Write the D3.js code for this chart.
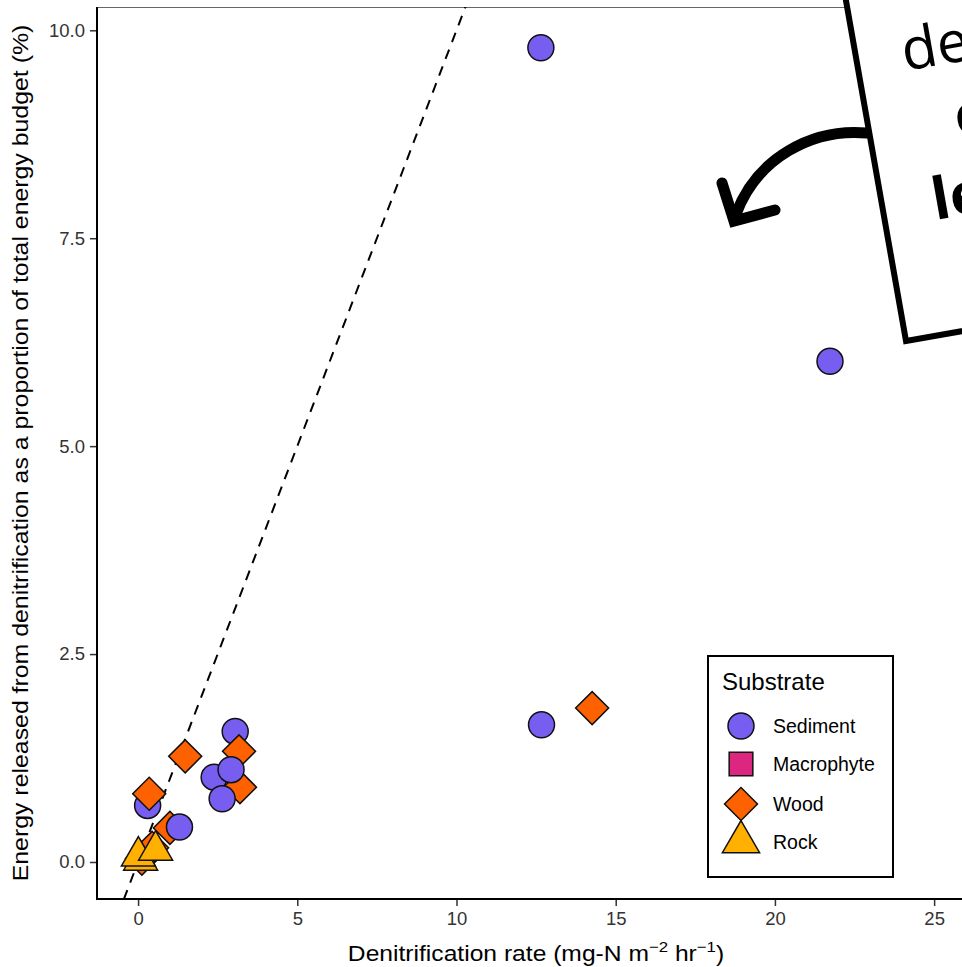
<!DOCTYPE html>
<html>
<head>
<meta charset="utf-8">
<script src="https://cdn.jsdelivr.net/npm/d3@7"></script>
<style>
  body { margin: 0; background: #fff; }
  svg { display: block; font-family: "Liberation Sans", Arial, sans-serif; }
</style>
</head>
<body>
<div id="chart"></div>
<script>
// substrate categories and their colours
const substrates = ["Sediment", "Macrophyte", "Wood", "Rock"];
const substrateColors = ["#785EF0", "#DC267F", "#FE6100", "#FFB000"];

// points in drawing order (substrate, denitrification rate, energy %)
const pointSubstrate = ["Sediment", "Wood", "Sediment", "Wood", "Wood", "Sediment", "Sediment", "Sediment",
  "Wood", "Wood", "Sediment", "Wood", "Wood", "Rock", "Rock", "Rock", "Sediment", "Sediment", "Sediment", "Wood"];
const pointRate = [0.30, 0.35, 3.05, 3.17, 3.20, 2.39, 2.92, 2.64,
  1.48, 1.00, 1.30, 0.12, 0.44, 0.08, 0.01, 0.55, 12.65, 21.73, 12.67, 14.26];
const pointEnergy = [0.68, 0.82, 1.57, 1.33, 0.90, 1.02, 1.11, 0.76,
  1.27, 0.41, 0.42, 0.04, 0.17, 0.02, 0.07, 0.14, 9.79, 6.02, 1.65, 1.85];

const xTicks = [0, 5, 10, 15, 20, 25];
const yTicks = [0, 2.5, 5, 7.5, 10];

const width = 962;
const height = 967;
const pLeft = 97, pTop = 7, pBottom = 899, pRight = 1001;

const svg = d3.select("#chart").append("svg")
  .attr("width", width)
  .attr("height", height);

const x = d3.scaleLinear().domain([-1.29, 27.1]).range([pLeft, pRight]);
const y = d3.scaleLinear().domain([-0.445, 10.28]).range([pBottom, pTop]);
const color = d3.scaleOrdinal().domain(substrates).range(substrateColors);

// symbol generators
const shapeSize = {Sediment: 531, Macrophyte: 560, Wood: 544, Rock: 500};
function symbolPath(s, scale) {
  const k = scale || 1;
  if (s === "Sediment") return d3.symbol(d3.symbolCircle, shapeSize[s] * k)();
  if (s === "Macrophyte") return d3.symbol(d3.symbolSquare, shapeSize[s] * k)();
  if (s === "Wood") return d3.symbol(d3.symbolSquare, shapeSize[s] * k)();
  return d3.symbol(d3.symbolTriangle, shapeSize[s] * k)();
}
function symbolRotate(s) { return s === "Wood" ? " rotate(45)" : ""; }

svg.append("clipPath").attr("id", "panel")
  .append("rect").attr("x", pLeft).attr("y", pTop)
  .attr("width", pRight - pLeft).attr("height", pBottom - pTop);

// top border of the panel
svg.append("line")
  .attr("x1", pLeft).attr("x2", pRight)
  .attr("y1", pTop + 0.5).attr("y2", pTop + 0.5)
  .attr("stroke", "#666").attr("stroke-width", 1);

// 1:1 line
const lineLo = -0.45, lineHi = 10.4;
svg.append("line")
  .attr("clip-path", "url(#panel)")
  .attr("x1", x(lineLo)).attr("y1", y(lineLo))
  .attr("x2", x(lineHi)).attr("y2", y(lineHi))
  .attr("stroke", "#000").attr("stroke-width", 2)
  .attr("stroke-dasharray", "10,8");

// points
svg.append("g").selectAll("path")
  .data(d3.range(pointRate.length))
  .enter().append("path")
  .attr("transform", i => `translate(${x(pointRate[i])},${y(pointEnergy[i])})${symbolRotate(pointSubstrate[i])}`)
  .attr("d", i => symbolPath(pointSubstrate[i]))
  .attr("fill", i => color(pointSubstrate[i]))
  .attr("stroke", "#111")
  .attr("stroke-width", 1.5);

// axes
const xAxis = svg.append("g")
  .attr("transform", `translate(0,${pBottom})`)
  .call(d3.axisBottom(x).tickValues(xTicks).tickSize(7).tickPadding(6).tickFormat(d3.format("d")));
xAxis.select(".domain").remove();
xAxis.append("line").attr("x1", pLeft).attr("x2", width).attr("stroke", "#000").attr("stroke-width", 2);

const yAxis = svg.append("g")
  .attr("transform", `translate(${pLeft},0)`)
  .call(d3.axisLeft(y).tickValues(yTicks).tickSize(7).tickPadding(5).tickFormat(d3.format(".1f")));
yAxis.select(".domain").remove();
yAxis.append("line").attr("y1", pTop).attr("y2", pBottom + 1).attr("stroke", "#000").attr("stroke-width", 2);

svg.selectAll(".tick line").attr("stroke", "#333").attr("stroke-width", 1.5);
svg.selectAll(".tick text").attr("fill", "#333").style("font-size", "18.5px")
  .style("font-family", "'Liberation Sans', Arial, sans-serif");

// axis titles (stretched a little sideways like the original render)
const xTitle = svg.append("text")
  .attr("transform", "translate(536,961) scale(1.12,1)")
  .attr("text-anchor", "middle")
  .style("font-size", "22px");
xTitle.append("tspan").text("Denitrification rate (mg-N m");
xTitle.append("tspan").attr("dy", -9).style("font-size", "15px").text("\u22122");
xTitle.append("tspan").attr("dy", 9).text(" hr");
xTitle.append("tspan").attr("dy", -9).style("font-size", "15px").text("\u22121");
xTitle.append("tspan").attr("dy", 9).text(")");

svg.append("text")
  .attr("transform", "translate(28,453) rotate(-90) scale(1.13,1)")
  .attr("text-anchor", "middle")
  .style("font-size", "22px")
  .text("Energy released from denitrification as a proportion of total energy budget (%)");

// legend
const legend = svg.append("g").attr("transform", "translate(708,656)");
legend.append("rect")
  .attr("width", 185).attr("height", 221)
  .attr("fill", "#fff").attr("stroke", "#000").attr("stroke-width", 2);
legend.append("text").attr("x", 14).attr("y", 34)
  .style("font-size", "24px").text("Substrate");
const keys = legend.selectAll(".key").data(substrates).enter().append("g")
  .attr("class", "key")
  .attr("transform", (d, i) => `translate(33,${[70, 108, 148, 186][i]})`);
keys.append("path")
  .attr("transform", d => symbolRotate(d).trim() || null)
  .attr("d", d => symbolPath(d, d === "Rock" ? 1.2 : 1))
  .attr("fill", d => color(d))
  .attr("stroke", "#111").attr("stroke-width", 1.5);
keys.append("text").attr("x", 32).attr("y", 7)
  .style("font-size", "19.5px").text(d => d);

// annotation box with arrow
svg.append("path")
  .attr("d", "M867,133 C812,128 757,158 736,214")
  .attr("fill", "none").attr("stroke", "#000").attr("stroke-width", 11)
  .attr("stroke-linecap", "round");
svg.append("path")
  .attr("d", "M722,183 L734,221 L775,210")
  .attr("fill", "none").attr("stroke", "#000").attr("stroke-width", 11)
  .attr("stroke-linecap", "round").attr("stroke-linejoin", "miter");

const note = svg.append("g").attr("transform", "translate(906,341) rotate(-10)");
note.append("rect")
  .attr("x", 0).attr("y", -420).attr("width", 500).attr("height", 420)
  .attr("fill", "#fff").attr("stroke", "#000").attr("stroke-width", 6);
note.append("text").attr("x", 46).attr("y", -266)
  .style("font-family", "'Open Sans', sans-serif").style("font-size", "58px")
  .text("denitrification");
note.append("text").attr("x", 86).attr("y", -192)
  .style("font-family", "'Open Sans', sans-serif").style("font-size", "58px")
  .text("energy");
note.append("text").attr("x", 50).attr("y", -114)
  .style("font-family", "'Open Sans', sans-serif").style("font-size", "58px")
  .style("font-weight", "bold")
  .text("less");
</script>
</body>
</html>
